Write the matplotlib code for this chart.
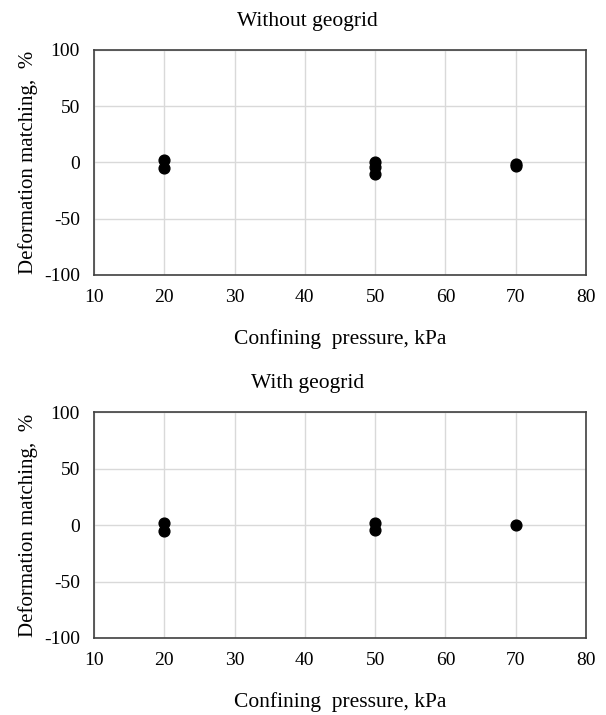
import matplotlib
matplotlib.use('Agg')
import matplotlib.pyplot as plt

plt.rcParams['font.family'] = ['Liberation Serif', 'DejaVu Serif']
plt.rcParams['font.size'] = 14
plt.rcParams['axes.unicode_minus'] = False

# confining pressure, kPa
pressure_without = [20, 20, 50, 50, 50, 70, 70]
matching_without = [2, -5, 0, -4, -10, -1, -3]
pressure_with = [20, 20, 50, 50, 70]
matching_with = [2, -5, 2, -4, 0]

titles = ['Without geogrid', 'With geogrid']
xticks = [10, 20, 30, 40, 50, 60, 70, 80]
yticks = [-100, -50, 0, 50, 100]

fig = plt.figure(figsize=(6.06, 7.15), dpi=100)
boxes = [[0.155, 0.6154, 0.812, 0.3147], [0.155, 0.1077, 0.812, 0.316]]
series = [(pressure_without, matching_without), (pressure_with, matching_with)]

for box, title, (xs, ys) in zip(boxes, titles, series):
    ax = fig.add_axes(box)
    ax.scatter(xs, ys, s=60, color='black', zorder=3)
    ax.set_xlim(10, 80)
    ax.set_ylim(-100, 100)
    ax.set_xticks(xticks)
    ax.set_yticks(yticks)
    ax.grid(True, color='#d9d9d9', lw=1)
    ax.set_axisbelow(True)
    ax.tick_params(length=0, pad=10)
    for sp in ax.spines.values():
        sp.set_color('#404040')
        sp.set_linewidth(1.2)
    # title sits a bit left of the plot centre, as in the original
    ax.set_title(title, pad=17, fontsize=15.5, x=0.434)
    ax.set_xlabel('Confining  pressure, kPa', labelpad=17, fontsize=15.5)
    ax.set_ylabel('Deformation matching,  %', labelpad=4, fontsize=15)

fig.savefig('out.png', dpi=100)
